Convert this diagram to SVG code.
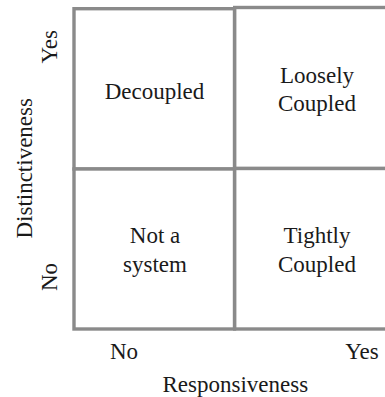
<svg xmlns="http://www.w3.org/2000/svg" width="385" height="397" viewBox="0 0 385 397">
<style>
.cell{fill:#ffffff;stroke:#8a8a8a;stroke-width:3.4}
.t{font-family:'Liberation Serif','DejaVu Serif',serif;font-size:23px;fill:#1a1a1a;text-anchor:middle}
</style>
<rect x="0" y="0" width="385" height="397" fill="#ffffff"/>
<g id="cell-decoupled">
<rect class="cell" x="74" y="8.7" width="160.5" height="160.3"/>
<text class="t" x="154.5" y="99">Decoupled</text>
</g>
<g id="cell-loosely-coupled">
<rect class="cell" x="234.7" y="7.5" width="165" height="161"/>
<text class="t" x="317" y="82.7">Loosely</text>
<text class="t" x="317" y="111">Coupled</text>
</g>
<g id="cell-not-a-system">
<rect class="cell" x="74" y="169" width="160.5" height="160"/>
<text class="t" x="155" y="243.3">Not a</text>
<text class="t" x="155" y="271.7">system</text>
</g>
<g id="cell-tightly-coupled">
<rect class="cell" x="234.7" y="168.5" width="165" height="160.5"/>
<text class="t" x="317" y="243.3">Tightly</text>
<text class="t" x="317" y="271.7">Coupled</text>
</g>
<g id="axis-y">
<text class="t" transform="translate(56.5,46.7) rotate(-90)">Yes</text>
<text class="t" transform="translate(56.5,277) rotate(-90)">No</text>
<text class="t" transform="translate(31.5,168.3) rotate(-90)">Distinctiveness</text>
</g>
<g id="axis-x">
<text class="t" x="124" y="359.3">No</text>
<text class="t" x="362" y="359.3">Yes</text>
<text class="t" x="235.3" y="391.7">Responsiveness</text>
</g>
</svg>
